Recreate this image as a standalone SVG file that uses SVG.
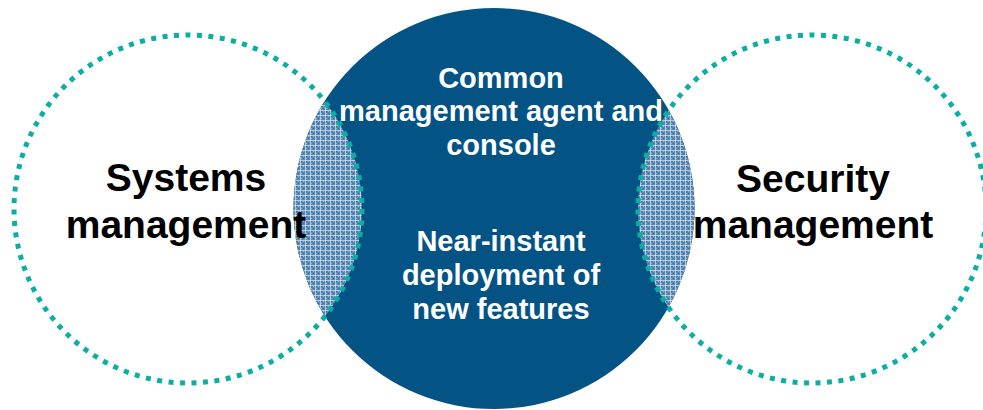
<svg xmlns="http://www.w3.org/2000/svg" width="983" height="410" viewBox="0 0 983 410">
  <style>
    .ring { fill: none; stroke: #0AAEA3; stroke-width: 5; stroke-dasharray: 5 6.508; }
    .dark { fill: #045385; }
    .lens { fill: url(#hatch); }
    .big { font-family: "Liberation Sans", Arial, sans-serif; font-weight: bold; font-size: 39px; fill: #000; text-anchor: middle; }
    .small { font-family: "Liberation Sans", Arial, sans-serif; font-weight: bold; font-size: 29px; fill: #fff; text-anchor: middle; }
  </style>
  <defs>
    <pattern id="hatch" width="5" height="5" patternUnits="userSpaceOnUse">
      <rect width="5" height="5" fill="#5787b2"/>
      <rect x="1" y="1" width="1" height="1" fill="#3b6e9d"/>
      <rect x="3" y="3" width="1" height="1" fill="#3b6e9d"/>
      <rect x="3" y="1" width="1" height="1" fill="#8db2d2"/>
      <rect x="1" y="3" width="1" height="1" fill="#8db2d2"/>
      <rect x="0" y="0" width="5" height="1" fill="#ffffff" fill-opacity="0.55"/>
      <rect x="0" y="0" width="1" height="5" fill="#ffffff" fill-opacity="0.55"/>
    </pattern>
    <clipPath id="clipLeft"><circle cx="188" cy="209" r="174"/></clipPath>
    <clipPath id="clipRight"><circle cx="812" cy="209" r="174"/></clipPath>
  </defs>
  <rect width="983" height="410" fill="#ffffff"/>

  <g id="center-node">
    <circle class="dark" cx="494" cy="208.5" r="200.5"/>
  </g>
  <g id="overlap-left">
    <circle class="lens" cx="494" cy="208.5" r="200.5" clip-path="url(#clipLeft)"/>
  </g>
  <g id="overlap-right">
    <circle class="lens" cx="494" cy="208.5" r="200.5" clip-path="url(#clipRight)"/>
  </g>

  <g id="systems-management">
    <circle class="ring" cx="188" cy="209" r="174"/>
    <text class="big" x="186" y="191">Systems</text>
    <text class="big" x="186" y="238">management</text>
  </g>

  <g id="security-management">
    <circle class="ring" cx="812" cy="209" r="174"/>
    <text class="big" x="813" y="192">Security</text>
    <text class="big" x="813" y="238">management</text>
  </g>

  <g id="center-text">
    <text class="small" x="501" y="88">Common</text>
    <text class="small" x="501" y="121">management agent and</text>
    <text class="small" x="501" y="155">console</text>
    <text class="small" x="501" y="251">Near-instant</text>
    <text class="small" x="501" y="285">deployment of</text>
    <text class="small" x="501" y="319">new features</text>
  </g>
</svg>
